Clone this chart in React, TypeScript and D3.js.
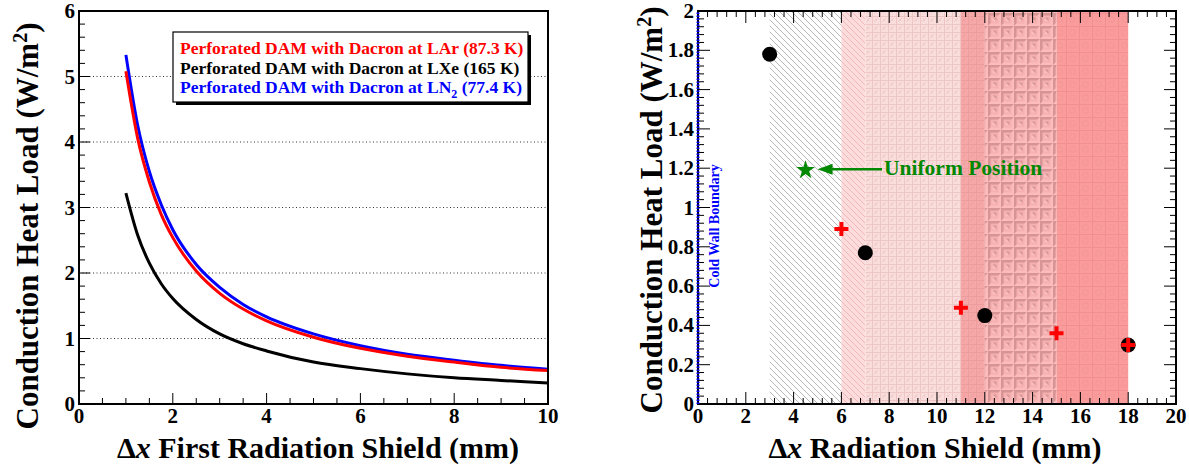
import React from 'react';
import * as d3 from 'd3';

// ---------- Data ----------
const leftX = [1, 1.25, 1.5, 1.75, 2, 2.5, 3, 3.5, 4, 5, 6, 7, 8, 9, 10];
const larY = [5.08, 4.06, 3.39, 2.9, 2.54, 2.03, 1.69, 1.45, 1.27, 1.02, 0.85, 0.73, 0.64, 0.56, 0.51];
const ln2Y = [5.33, 4.26, 3.55, 3.05, 2.66, 2.13, 1.78, 1.52, 1.33, 1.07, 0.89, 0.76, 0.67, 0.59, 0.53];
const lxeY = [3.22, 2.58, 2.15, 1.84, 1.61, 1.29, 1.07, 0.92, 0.81, 0.64, 0.54, 0.46, 0.4, 0.36, 0.32];

const legendLabels = [
  { pre: 'Perforated DAM with Dacron at LAr (87.3 K)', sub: '', post: '', color: '#ff0000' },
  { pre: 'Perforated DAM with Dacron at LXe (165 K)', sub: '', post: '', color: '#000000' },
  { pre: 'Perforated DAM with Dacron at LN', sub: '2', post: ' (77.4 K)', color: '#0000ff' },
];

const circleX = [3, 7, 12, 18];
const circleY = [1.78, 0.77, 0.45, 0.3];
const crossX = [6, 11, 15, 18];
const crossY = [0.89, 0.49, 0.36, 0.3];
const starX = [4.5];
const starY = [1.19];
const bandEdges = [3, 6, 7, 11, 12, 15, 18];
const bandFills = ['url(#hatchGray)', 'url(#hatchPink)', 'url(#finePink)', 'url(#fineRed)', 'url(#squares3d)', 'url(#squaresFlat)'];

const leftXTicks = [0, 2, 4, 6, 8, 10];
const leftYTicks = [0, 1, 2, 3, 4, 5, 6];
const rightXTicks = [0, 2, 4, 6, 8, 10, 12, 14, 16, 18, 20];
const rightYTicks = [0, 0.2, 0.4, 0.6, 0.8, 1, 1.2, 1.4, 1.6, 1.8, 2];

const FONT = '"Liberation Serif", "Times New Roman", Times, serif';

function fmt(v: number) {
  return String(+v.toFixed(2));
}

export default function App() {
  const lx = d3.scaleLinear().domain([0, 10]).range([79, 548]);
  const ly = d3.scaleLinear().domain([0, 6]).range([404, 11]);
  const rx = d3.scaleLinear().domain([0, 20]).range([698, 1176]);
  const ry = d3.scaleLinear().domain([0, 2]).range([404, 11]);

  const line = (ys: number[]) =>
    d3
      .line<number>()
      .x((_, i) => lx(leftX[i]))
      .y((d) => ly(d))
      .curve(d3.curveMonotoneX)(ys) || '';

  const leftXMinor = d3.range(0, 10.001, 0.5);
  const leftYMinor = d3.range(0, 6.001, 0.2);
  const rightXMinor = d3.range(0, 20.001, 0.4);
  const rightYMinor = d3.range(0, 2.001, 0.04);

  const star = d3.symbol().type(d3.symbolStar).size(110)() || '';

  const T = (props: any) => <text fontFamily={FONT} fontWeight="bold" {...props} />;

  return (
    <svg width={1189} height={468} style={{ position: 'absolute', left: 0, top: 0, background: '#fff' }} fontFamily={FONT}>
      <defs>
        <pattern id="hatchGray" patternUnits="userSpaceOnUse" width={6} height={6}>
          <rect width={6} height={6} fill="#fff" />
          <path d="M0,0 L6,6 M-1,5 L1,7 M5,-1 L7,1" stroke="#9a9a9a" strokeWidth={0.7} />
        </pattern>
        <pattern id="hatchPink" patternUnits="userSpaceOnUse" width={6} height={6}>
          <rect width={6} height={6} fill="#fcdcdc" />
          <path d="M0,0 L6,6 M-1,5 L1,7 M5,-1 L7,1" stroke="#efb4b4" strokeWidth={0.9} />
        </pattern>
        <pattern id="finePink" patternUnits="userSpaceOnUse" width={8} height={8}>
          <rect width={8} height={8} fill="#f9dcdc" />
          <path d="M0,0.5 H8 M0.5,0 V8" stroke="#efc6c6" strokeWidth={1} />
          <path d="M3,3 h2 v2 h-2 z M2,5 h1 v1 h-1 z M5,2 h1 v1 h-1 z" fill="#f1caca" />
        </pattern>
        <pattern id="fineRed" patternUnits="userSpaceOnUse" width={8} height={8}>
          <rect width={8} height={8} fill="#f6a8a8" />
          <path d="M0,0.5 H8 M0.5,0 V8" stroke="#eb9c9c" strokeWidth={1} />
          <path d="M3,3 h2 v2 h-2 z M2,5 h1 v1 h-1 z M5,2 h1 v1 h-1 z" fill="#ee9f9f" />
        </pattern>
        <pattern id="squares3d" patternUnits="userSpaceOnUse" width={13} height={13}>
          <rect width={13} height={13} fill="#f7b0b0" />
          <path d="M0,0 H13 L10.5,2.5 H2.5 V10.5 L0,13 Z" fill="#d69494" />
          <path d="M13,0 V13 H0 L2.5,10.5 H10.5 V2.5 Z" fill="#fcbcbc" />
          <path d="M4.5,4.5 H8.5 V8.5 Z" fill="#d89898" />
          <path d="M4.5,4.5 L8.5,8.5 H4.5 Z" fill="#fbbdbd" />
        </pattern>
        <pattern id="squaresFlat" patternUnits="userSpaceOnUse" width={13} height={13}>
          <rect width={13} height={13} fill="#fa9c9c" />
          <path d="M0,0.5 H13 M0.5,0 V13" stroke="#f29090" strokeWidth={1} />
          <path d="M4,4 H9 V9 H4 Z" fill="none" stroke="#f49494" strokeWidth={0.8} />
        </pattern>
      </defs>

      {/* ================= LEFT PANEL ================= */}
      {leftYTicks
        .filter((t) => t > 0 && t < 6)
        .map((t) => (
          <line key={'g' + t} x1={lx(0)} x2={lx(10)} y1={ly(t)} y2={ly(t)} stroke="#000" strokeWidth={0.8} strokeDasharray="1,2.5" />
        ))}
      <path d={line(lxeY)} fill="none" stroke="#000" strokeWidth={3} />
      <path d={line(ln2Y)} fill="none" stroke="#0000ff" strokeWidth={3} />
      <path d={line(larY)} fill="none" stroke="#ff0000" strokeWidth={3} />

      {leftXMinor.map((t) => {
        const major = Math.abs(t % 2) < 1e-6;
        return <line key={'lxt' + t} x1={lx(t)} x2={lx(t)} y1={ly(0)} y2={ly(0) - (major ? 11 : 6)} stroke="#000" strokeWidth={1} />;
      })}
      {leftYMinor.map((t) => {
        const major = Math.abs(t - Math.round(t)) < 1e-6;
        return <line key={'lyt' + t} x1={lx(0)} x2={lx(0) + (major ? 11 : 6)} y1={ly(t)} y2={ly(t)} stroke="#000" strokeWidth={1} />;
      })}
      <rect x={lx(0)} y={ly(6)} width={lx(10) - lx(0)} height={ly(0) - ly(6)} fill="none" stroke="#000" strokeWidth={2} />

      {leftXTicks.map((t) => (
        <T key={'lxl' + t} x={lx(t)} y={423} textAnchor="middle" fontSize={21}>
          {fmt(t)}
        </T>
      ))}
      {leftYTicks.map((t) => (
        <T key={'lyl' + t} x={lx(0) - 4} y={ly(t) + 7} textAnchor="end" fontSize={21}>
          {fmt(t)}
        </T>
      ))}

      <T x={318} y={458} textAnchor="middle" fontSize={30}>
        <tspan>Δ</tspan>
        <tspan fontStyle="italic">x</tspan>
        <tspan> First Radiation Shield (mm)</tspan>
      </T>
      <T transform="translate(38,226) rotate(-90)" textAnchor="middle" fontSize={31}>
        <tspan>Conduction Heat Load (W/m</tspan>
        <tspan dy={-11} fontSize={20}>2</tspan>
        <tspan dy={11}>)</tspan>
      </T>

      {/* legend */}
      <rect x={176} y={35} width={355} height={70} fill="#000" />
      <rect x={173} y={32} width={355} height={70} fill="#fff" stroke="#000" strokeWidth={1.2} />
      {legendLabels.map((l, i) => (
        <T key={'leg' + i} x={180} y={54 + i * 19.5} fontSize={17.5} fill={l.color}>
          <tspan>{l.pre}</tspan>
          {l.sub ? (
            <tspan dy={5} fontSize={12}>
              {l.sub}
            </tspan>
          ) : null}
          {l.post ? <tspan dy={l.sub ? -5 : 0}>{l.post}</tspan> : null}
        </T>
      ))}

      {/* ================= RIGHT PANEL ================= */}
      {bandFills.map((f, i) => (
        <rect
          key={'band' + i}
          x={rx(bandEdges[i])}
          y={ry(2)}
          width={rx(bandEdges[i + 1]) - rx(bandEdges[i])}
          height={ry(0) - ry(2)}
          fill={f}
        />
      ))}

      {rightXMinor.map((t) => {
        const major = Math.abs(t / 2 - Math.round(t / 2)) < 1e-6;
        const len = major ? 12 : 6;
        return (
          <g key={'rxt' + t}>
            <line x1={rx(t)} x2={rx(t)} y1={ry(0)} y2={ry(0) - len} stroke="#000" strokeWidth={1} />
            <line x1={rx(t)} x2={rx(t)} y1={ry(2)} y2={ry(2) + len} stroke="#000" strokeWidth={1} />
          </g>
        );
      })}
      {rightYMinor.map((t) => {
        const major = Math.abs(t / 0.2 - Math.round(t / 0.2)) < 1e-6;
        const len = major ? 12 : 6;
        return (
          <g key={'ryt' + t}>
            <line x1={rx(0)} x2={rx(0) + len} y1={ry(t)} y2={ry(t)} stroke="#000" strokeWidth={1} />
            <line x1={rx(20)} x2={rx(20) - len} y1={ry(t)} y2={ry(t)} stroke="#000" strokeWidth={1} />
          </g>
        );
      })}
      <rect x={rx(0)} y={ry(2)} width={rx(20) - rx(0)} height={ry(0) - ry(2)} fill="none" stroke="#000" strokeWidth={2} />

      <line x1={rx(0)} x2={rx(0)} y1={ry(0)} y2={ry(2)} stroke="#0000ff" strokeWidth={3} strokeDasharray="1.5,1.5" />
      <T transform={`translate(${rx(0) + 21},226) rotate(-90)`} textAnchor="middle" fontSize={14} fill="#0000ff">
        Cold Wall Boundary
      </T>

      {circleX.map((x, i) => (
        <circle key={'c' + i} cx={rx(x)} cy={ry(circleY[i])} r={7.5} fill="#000" />
      ))}
      {crossX.map((x, i) => (
        <path
          key={'x' + i}
          transform={`translate(${rx(x)},${ry(crossY[i])})`}
          d="M-7,0 H7 M0,-7 V7"
          stroke="#ff0000"
          strokeWidth={4}
        />
      ))}
      {starX.map((x, i) => (
        <path key={'s' + i} transform={`translate(${rx(x)},${ry(starY[i])})`} d={star} fill="#008800" />
      ))}

      <line x1={rx(4.5) + 25} x2={882} y1={ry(1.19) - 1} y2={ry(1.19) - 1} stroke="#008800" strokeWidth={2.5} />
      <path transform={`translate(${rx(4.5) + 12},${ry(1.19) - 1})`} d="M0,0 L15,-5.5 L15,5.5 Z" fill="#008800" />
      <T x={884} y={175} fontSize={21.5} fill="#008800">
        Uniform Position
      </T>

      {rightXTicks.map((t) => (
        <T key={'rxl' + t} x={rx(t)} y={423} textAnchor="middle" fontSize={21}>
          {fmt(t)}
        </T>
      ))}
      {rightYTicks.map((t) => (
        <T key={'ryl' + t} x={rx(0) - 4} y={ry(t) + 7} textAnchor="end" fontSize={21}>
          {fmt(t)}
        </T>
      ))}

      <T x={935} y={458} textAnchor="middle" fontSize={30}>
        <tspan>Δ</tspan>
        <tspan fontStyle="italic">x</tspan>
        <tspan> Radiation Shield (mm)</tspan>
      </T>
      <T transform="translate(662,210) rotate(-90)" textAnchor="middle" fontSize={31}>
        <tspan>Conduction Heat Load (W/m</tspan>
        <tspan dy={-11} fontSize={20}>2</tspan>
        <tspan dy={11}>)</tspan>
      </T>
    </svg>
  );
}
